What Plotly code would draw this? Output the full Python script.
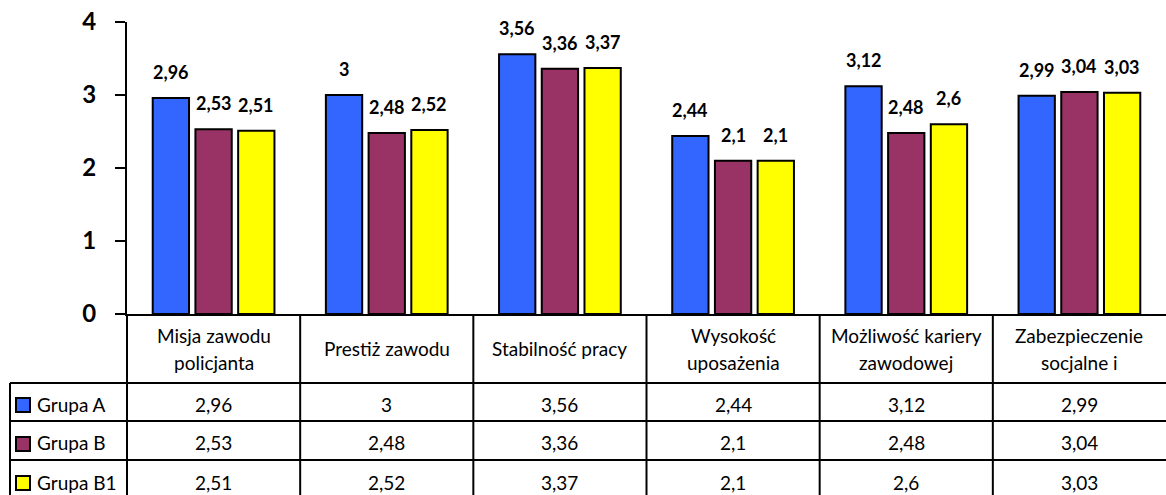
import plotly.graph_objects as go

categories = ["Misja zawodu\npolicjanta", "Prestiż zawodu", "Stabilność pracy",
              "Wysokość\nuposażenia", "Możliwość kariery\nzawodowej", "Zabezpieczenie\nsocjalne i"]
series_names = ["Grupa A", "Grupa B", "Grupa B1"]
grupa_a = [2.96, 3, 3.56, 2.44, 3.12, 2.99]
grupa_b = [2.53, 2.48, 3.36, 2.1, 2.48, 3.04]
grupa_b1 = [2.51, 2.52, 3.37, 2.1, 2.6, 3.03]
colors = ["#3366FF", "#993366", "#FFFF00"]
y_ticks = [0, 1, 2, 3, 4]

series = [grupa_a, grupa_b, grupa_b1]

W, H = 1166, 495
ML, MR, MT = 127, 0, 22
MB = H - 314
FONT = "Lato"
BARGAP = 0.26


def fmt(v):
    s = ("%.2f" % v).rstrip("0").rstrip(".")
    return s.replace(".", ",")


def py(p):
    # pixel row -> paper y
    return (H - MB - p) / (H - MT - MB)


def px(p):
    # pixel column -> paper x
    return (p - ML) / (W - ML - MR)


xs = list(range(len(categories)))
fig = go.Figure()
for name, vals, col in zip(series_names, series, colors):
    fig.add_trace(go.Bar(x=xs, y=vals, name=name, marker=dict(color=col, line=dict(color="black", width=2)),
                         showlegend=False))

shapes = []
annotations = []
slot = (1 - BARGAP) / len(series)
for j, vals in enumerate(series):
    off = (j - (len(series) - 1) / 2) * slot
    for i, v in enumerate(vals):
        annotations.append(dict(x=i + off, y=v, xref="x", yref="y", text="<b>%s</b>" % fmt(v),
                                showarrow=False, yshift=26, yanchor="middle",
                                font=dict(family=FONT, size=18, color="black")))

line = dict(color="black", width=2)
bottom = py(500)
# y-axis line extension into table
shapes.append(dict(type="line", xref="paper", yref="paper", x0=0, x1=0, y0=0, y1=bottom, line=line))
# category separators
for i in range(1, len(categories)):
    shapes.append(dict(type="line", xref="x", yref="paper", x0=i - 0.5, x1=i - 0.5, y0=0, y1=bottom, line=line))
# horizontal row lines
for r in [383, 421, 460]:
    shapes.append(dict(type="line", xref="paper", yref="paper", x0=px(10), x1=1, y0=py(r), y1=py(r), line=line))
# left border
shapes.append(dict(type="line", xref="paper", yref="paper", x0=px(10), x1=px(10), y0=py(383), y1=bottom, line=line))

# header texts
for i, c in enumerate(categories):
    parts = c.split("\n")
    n = len(parts)
    for k, t in enumerate(parts):
        cy = 348.5 + (k - (n - 1) / 2) * 27
        annotations.append(dict(x=i, y=py(cy), xref="x", yref="paper", text=t, showarrow=False,
                                yanchor="middle", font=dict(family=FONT, size=19, color="black")))

row_centers = [404, 443, 482]
for j, (name, vals, col) in enumerate(zip(series_names, series, colors)):
    rc = row_centers[j]
    shapes.append(dict(type="rect", xref="paper", yref="paper", x0=px(16), x1=px(30),
                       y0=py(rc + 8), y1=py(rc - 6), fillcolor=col, line=line))
    annotations.append(dict(x=px(35), y=py(rc), xref="paper", yref="paper", text=name, showarrow=False,
                            xanchor="left", yanchor="middle", font=dict(family=FONT, size=19, color="black")))
    for i, v in enumerate(vals):
        annotations.append(dict(x=i, y=py(rc), xref="x", yref="paper", text=fmt(v), showarrow=False,
                                yanchor="middle", font=dict(family=FONT, size=19, color="black")))

fig.update_layout(
    width=W, height=H,
    margin=dict(l=ML, r=MR, t=MT, b=MB, pad=0, autoexpand=False),
    paper_bgcolor="white", plot_bgcolor="white",
    barmode="group", bargap=BARGAP, bargroupgap=0.15,
    xaxis=dict(range=[-0.5, len(categories) - 0.5], showticklabels=False, showgrid=False, zeroline=False,
               showline=True, linecolor="black", linewidth=2, ticks="", automargin=False),
    yaxis=dict(range=[0, 4.0001], tickvals=y_ticks, ticktext=[str(t) for t in y_ticks], showgrid=False,
               zeroline=False, showline=True, linecolor="black", linewidth=2, ticks="outside", ticklen=10,
               tickwidth=2, tickcolor="black", ticklabelstandoff=14, automargin=False,
               ticklabeloverflow="allow",
               tickfont=dict(family=FONT, size=24, color="black", weight="bold")),
    shapes=shapes, annotations=annotations,
)

fig.write_html("out.html", config={"displayModeBar": False},
               post_script="document.body.style.margin='0px';")
